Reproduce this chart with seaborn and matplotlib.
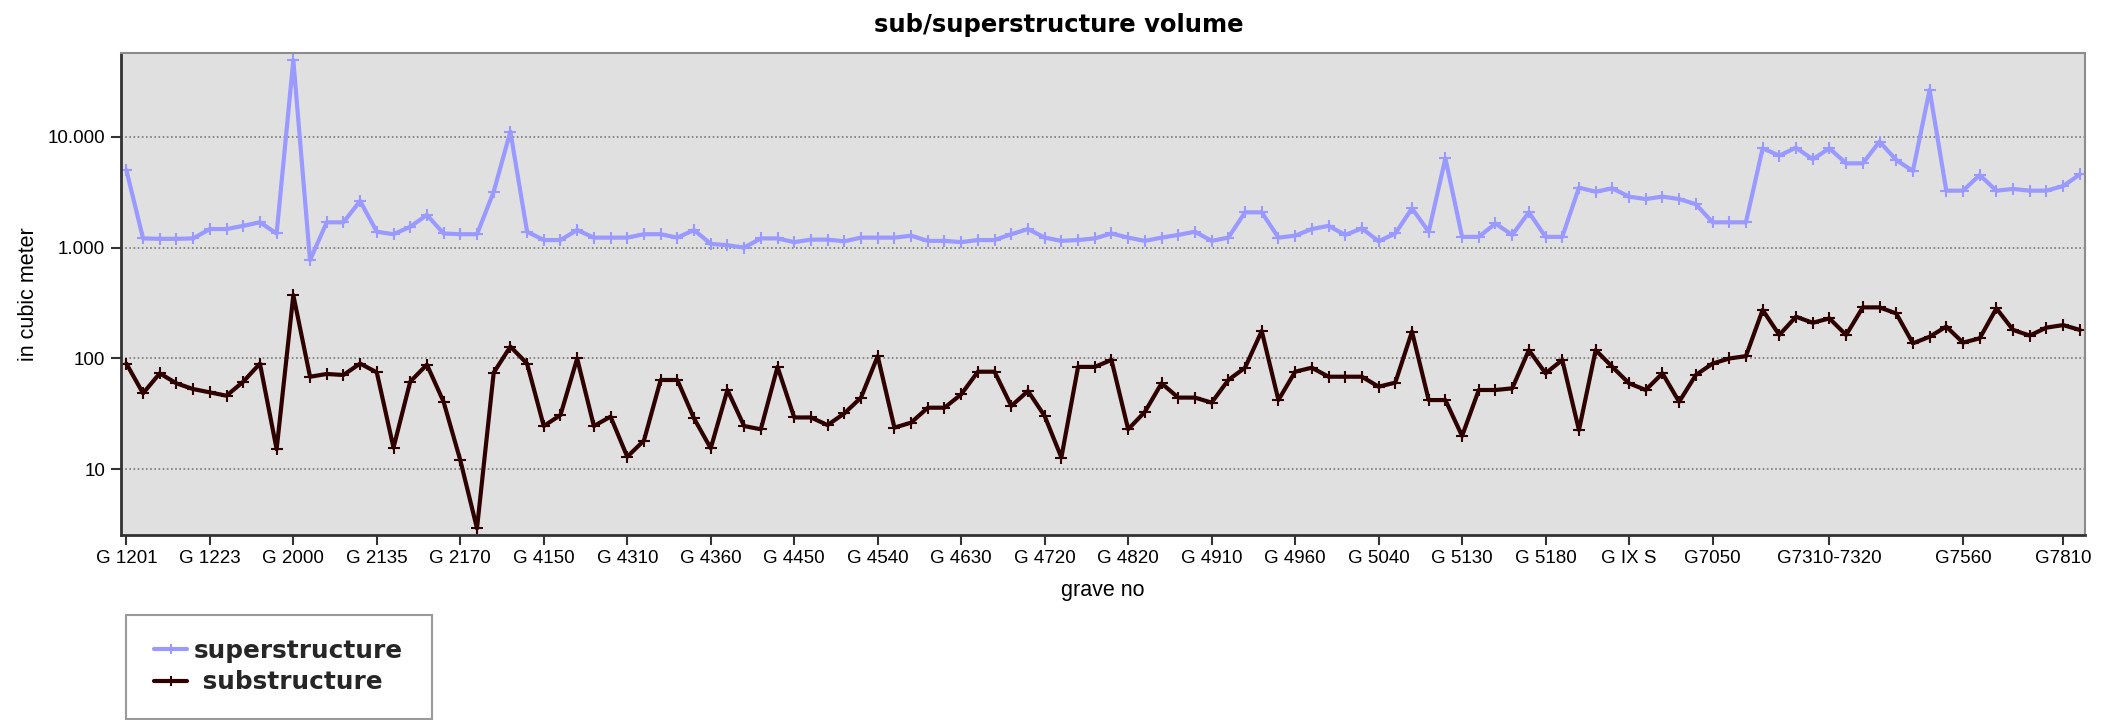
import numpy as np
import matplotlib
matplotlib.use("Agg")
import matplotlib.pyplot as plt
from matplotlib.patches import Rectangle
from matplotlib.ticker import FixedLocator, FixedFormatter, NullLocator
import seaborn as sns

# Volumes per grave (cubic meters), in grave-number order
super_vals = [
    5000, 1210, 1200, 1200, 1210, 1470, 1470, 1570, 1690, 1340,
    49000, 770, 1690, 1690, 2630, 1390, 1320, 1540, 1970, 1340,
    1320, 1320, 3190, 11100, 1390, 1170, 1170, 1440, 1230, 1230,
    1230, 1320, 1320, 1230, 1440, 1080, 1050, 1000, 1210, 1210,
    1120, 1180, 1180, 1140, 1230, 1230, 1230, 1280, 1150, 1150,
    1120, 1170, 1170, 1320, 1470, 1230, 1150, 1170, 1210, 1340,
    1230, 1150, 1230, 1300, 1390, 1150, 1230, 2080, 2080, 1230,
    1280, 1470, 1570, 1300, 1490, 1140, 1340, 2260, 1390, 6380,
    1250, 1250, 1650, 1300, 2080, 1250, 1250, 3470, 3190, 3420,
    2880, 2740, 2880, 2740, 2460, 1690, 1690, 1690, 7850, 6750,
    7960, 6250, 7850, 5750, 5750, 9020, 6170, 4900, 26400, 3260,
    3260, 4510, 3260, 3380, 3260, 3260, 3590, 4570,
]
sub_vals = [
    90, 48.5, 73.5, 59.7, 53, 49.5, 46.2, 61.8, 90, 15.2,
    373, 68.5, 72.5, 71, 90, 75, 15.7, 61.8, 88, 40.7,
    12.1, 2.94, 74.5, 128, 90, 24.6, 30.9, 100, 24.6, 29.9,
    13, 18.2, 64, 64, 28.8, 15.5, 52, 24.6, 23, 84,
    29.4, 29.4, 25.1, 32, 44.4, 105, 23.8, 26.4, 36, 36,
    47.5, 76, 76, 37.3, 50.9, 30.3, 12.8, 84, 84, 97,
    23, 33, 59.7, 44.4, 44.4, 40, 64, 82.6, 177, 42.2,
    76, 82.6, 68.5, 68.5, 68.5, 55.7, 60.6, 175, 42.2, 42.2,
    20, 52, 52, 53.8, 119, 73.5, 97, 22.6, 119, 84,
    59.7, 52, 73.5, 40.7, 71, 90, 100, 105, 274, 163,
    238, 210, 230, 163, 289, 289, 255, 137, 157, 194,
    139, 152, 283, 181, 161, 190, 200, 181,
]

# Labelled graves on the category axis (position in sequence, label)
tick_index = [0, 5, 10, 15, 20, 25, 30, 35, 40, 45, 50, 55, 60, 65, 70,
              75, 80, 85, 90, 95, 102, 110, 116]
tick_labels = ["G 1201", "G 1223", "G 2000", "G 2135", "G 2170", "G 4150",
               "G 4310", "G 4360", "G 4450", "G 4540", "G 4630", "G 4720",
               "G 4820", "G 4910", "G 4960", "G 5040", "G 5130", "G 5180",
               "G IX S", "G7050", "G7310-7320", "G7560", "G7810"]

y_ticks = [10, 100, 1000, 10000]
y_tick_labels = ["10", "100", "1.000", "10.000"]

series_names = ["superstructure", " substructure"]
series_colors = ["#9999FF", "#2E0000"]

sns.set_theme(style="white")
plt.rcParams["font.family"] = ["Liberation Sans", "DejaVu Sans"]

fig = plt.figure(figsize=(21.18, 7.2), dpi=100)
ax = fig.add_axes([0.0569, 0.2569, 0.9273, 0.6691])
ax.set_facecolor("#E0E0E0")

pos = np.arange(len(super_vals))
for vals, name, col in zip([super_vals, sub_vals], series_names, series_colors):
    sns.lineplot(x=pos, y=vals, ax=ax, color=col, linewidth=3.0,
                 marker="+", markersize=9, markeredgewidth=1.5,
                 markeredgecolor=col, label=name)

ax.set_yscale("log")
ax.set_ylim(2.56, 56500)
ax.set_xlim(-0.35, 117.28)

ax.yaxis.set_major_locator(FixedLocator(y_ticks))
ax.yaxis.set_major_formatter(FixedFormatter(y_tick_labels))
ax.yaxis.set_minor_locator(NullLocator())
ax.xaxis.set_major_locator(FixedLocator(tick_index))
ax.xaxis.set_major_formatter(FixedFormatter(tick_labels))
ax.xaxis.set_minor_locator(NullLocator())

ax.grid(False)
ax.yaxis.grid(True, which="major", linestyle=(0, (1, 1.5)),
              color="#7A7A7A", linewidth=1.2)
ax.set_axisbelow(True)

ax.tick_params(axis="both", which="major", direction="out", length=7,
               width=1.5, color="#333333", labelsize=13.5,
               labelcolor="#000000", pad=4, left=True, bottom=True)

for side in ["left", "bottom"]:
    ax.spines[side].set_color("#333333")
    ax.spines[side].set_linewidth(2.0)
for side in ["top", "right"]:
    ax.spines[side].set_color("#8C8C8C")
    ax.spines[side].set_linewidth(1.5)

ax.set_xlabel("grave no", fontsize=15.5, color="#000000", labelpad=9)
ax.set_ylabel("in cubic meter", fontsize=15.5, color="#000000", labelpad=6)

fig.text(0.5, 1 - 25 / 720, "sub/superstructure volume", ha="center",
         va="center", fontsize=17.5, fontweight="bold", color="#000000",
         family="DejaVu Sans")

# legend box below the plot
handles, labels = ax.get_legend_handles_labels()
ax.get_legend().remove()
fig.patches.append(Rectangle((126 / 2118, 1.5 / 720), 306 / 2118,
                             (720 - 615 - 1.5) / 720,
                             transform=fig.transFigure, facecolor="white",
                             edgecolor="#9A9A9A", linewidth=1.5, zorder=0))
fig.legend(handles, labels, loc="upper left",
           bbox_to_anchor=(154 / 2118, 1 - 639 / 720), frameon=False,
           prop={"family": "DejaVu Sans", "weight": "bold", "size": 17.8},
           handlelength=1.35, handletextpad=0.25, labelspacing=0.3,
           borderpad=0, borderaxespad=0, markerscale=0.8)

fig.savefig("out.png", dpi=100, facecolor="white")
